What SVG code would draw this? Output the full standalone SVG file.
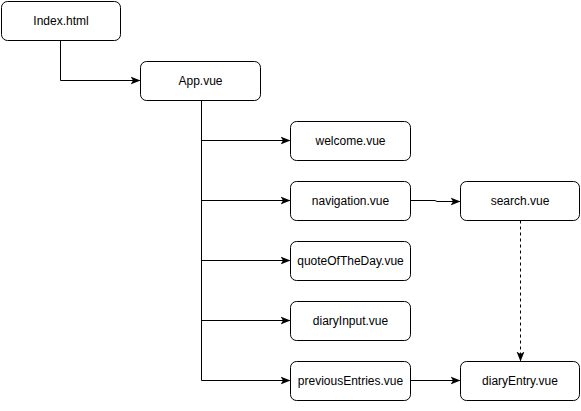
<svg xmlns="http://www.w3.org/2000/svg" width="581" height="411" viewBox="0 0 581 411">
<defs>
<style>
.n{fill:#fff;stroke:#000;stroke-width:1}
.t{font-family:"Liberation Sans",Arial,sans-serif;font-size:12px;fill:#000;text-anchor:middle;dominant-baseline:central}
.c{fill:none;stroke:#000;stroke-width:1}
.d{stroke-dasharray:3 3}
</style>
<marker id="a" viewBox="0 0 10 10" refX="9" refY="5" markerWidth="10" markerHeight="10" markerUnits="userSpaceOnUse" orient="auto">
<path d="M0,1 L10,5 L0,9 L2.5,5 Z" fill="#000"/>
</marker>
</defs>
<rect width="581" height="411" fill="#fff"/>
<g id="connectors">
<path class="c" d="M60.5,40.5 V80.5 H139.5" marker-end="url(#a)"/>
<path class="c" d="M201.5,100.5 V380.5"/>
<path class="c" d="M201.5,140.5 H289.5" marker-end="url(#a)"/>
<path class="c" d="M201.5,200.5 H289.5" marker-end="url(#a)"/>
<path class="c" d="M201.5,260.5 H289.5" marker-end="url(#a)"/>
<path class="c" d="M201.5,320.5 H289.5" marker-end="url(#a)"/>
<path class="c" d="M201.5,380.5 H289.5" marker-end="url(#a)"/>
<path class="c" d="M410.5,200.5 H435 L437,201.5 H459.5" marker-end="url(#a)"/>
<path class="c d" d="M520.5,220.5 V360.5" marker-end="url(#a)"/>
<path class="c" d="M410.5,380.5 H459.5" marker-end="url(#a)"/>
</g>
<g id="index"><rect class="n" x="1.5" y="1.5" width="119" height="39" rx="6"/><text class="t" x="61" y="21">Index.html</text></g>
<g id="app"><rect class="n" x="140.5" y="61.5" width="120" height="39" rx="6"/><text class="t" x="200.5" y="81">App.vue</text></g>
<g id="welcome"><rect class="n" x="290.5" y="121.5" width="120" height="39" rx="6"/><text class="t" x="350.5" y="141">welcome.vue</text></g>
<g id="navigation"><rect class="n" x="290.5" y="181.5" width="120" height="39" rx="6"/><text class="t" x="350.5" y="201">navigation.vue</text></g>
<g id="quote"><rect class="n" x="290.5" y="241.5" width="120" height="39" rx="6"/><text class="t" x="350.5" y="261">quoteOfTheDay.vue</text></g>
<g id="diaryInput"><rect class="n" x="290.5" y="301.5" width="120" height="39" rx="6"/><text class="t" x="350.5" y="321">diaryInput.vue</text></g>
<g id="previousEntries"><rect class="n" x="290.5" y="361.5" width="120" height="39" rx="6"/><text class="t" x="350.5" y="381">previousEntries.vue</text></g>
<g id="search"><rect class="n" x="460.5" y="181.5" width="119" height="39" rx="6"/><text class="t" x="520" y="201">search.vue</text></g>
<g id="diaryEntry"><rect class="n" x="460.5" y="361.5" width="119" height="39" rx="6"/><text class="t" x="520" y="381">diaryEntry.vue</text></g>
</svg>
